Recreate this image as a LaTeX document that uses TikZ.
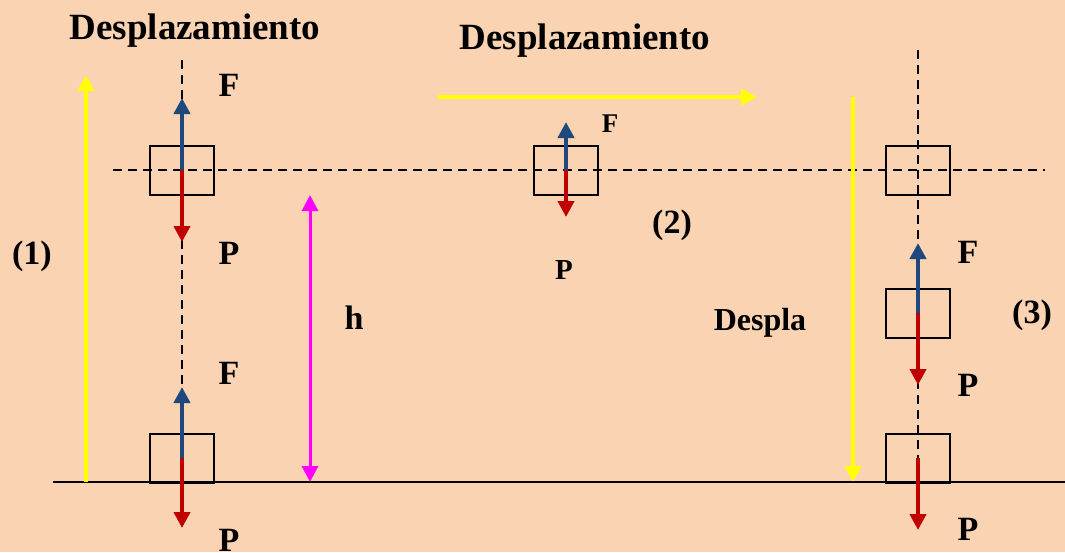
\documentclass[tikz,border=0pt]{standalone}
\usepackage{fontspec}
\setmainfont{Liberation Serif}
\usetikzlibrary{arrows.meta}
\definecolor{BgPeach}{HTML}{FAD3B3}
\definecolor{FBlue}{HTML}{1F497D}
\definecolor{PRed}{HTML}{C00000}
\definecolor{DYellow}{HTML}{FFFF00}
\definecolor{HMagenta}{HTML}{FF00FF}

\begin{document}
\begin{tikzpicture}[x=1pt,y=-1pt,>={Triangle[width=16pt,length=16pt]}]
  \tikzstyle{blk}=[draw,line width=2pt,minimum width=64pt,minimum height=49pt,inner sep=0pt]
  \tikzstyle{lbl}=[font=\fontsize{34}{36}\selectfont\bfseries,inner sep=0pt]
  \tikzstyle{guide}=[line width=2pt,dash pattern=on 9pt off 6pt]
  \tikzstyle{fup}=[->,line width=4pt,color=FBlue]
  \tikzstyle{pdown}=[->,line width=4pt,color=PRed]
  \tikzstyle{mov}=[->,line width=4pt,color=DYellow]
  \useasboundingbox[fill=BgPeach] (0,0) rectangle (1065,552);
  % guides
  \draw[line width=2pt] (53,482) -- (1065,482);
  \draw[guide] (113,170) -- (1045,170);
  \draw[guide] (182,60) -- (182,387);
  \draw[guide] (918,50) -- (918,458);
  % blocks
  \node[blk] (b1) at (182,170) {};
  \node[blk] (b2) at (182,458) {};
  \node[blk] (m1) at (566,170) {};
  \node[blk] (r1) at (918,170) {};
  \node[blk] (r2) at (918,313) {};
  \node[blk] (r3) at (918,458) {};
  % arrow ends
  \coordinate (b1f) at (182,98);
  \coordinate (b1p) at (182,242);
  \coordinate (b2f) at (182,387);
  \coordinate (b2p) at (182,528);
  \coordinate (m1f) at (566,122);
  \coordinate (m1p) at (566,217);
  \coordinate (r2f) at (918,243);
  \coordinate (r2p) at (918,385);
  \coordinate (r3p) at (918,530);
  \draw[fup] (b1.center) -- (b1f);
  \draw[pdown] (b1.center) -- (b1p);
  \draw[fup] (b2.center) -- (b2f);
  \draw[pdown] (b2.center) -- (b2p);
  \draw[fup] (m1.center) -- (m1f);
  \draw[pdown] (m1.center) -- (m1p);
  \draw[fup] (r2.center) -- (r2f);
  \draw[pdown] (r2.center) -- (r2p);
  \draw[pdown] (r3.center) -- (r3p);
  % displacements
  \coordinate (y1a) at (86,482);
  \coordinate (y1b) at (86,75);
  \coordinate (y2a) at (438,97);
  \coordinate (y2b) at (757,97);
  \coordinate (y3a) at (853,97);
  \coordinate (y3b) at (853,482);
  \draw[mov] (y1a) -- (y1b);
  \draw[mov] (y2a) -- (y2b);
  \draw[mov] (y3a) -- (y3b);
  \coordinate (ha) at (310,195);
  \coordinate (hb) at (310,482);
  \draw[<->,line width=3pt,color=HMagenta] (ha) -- (hb);
  % labels
  \node[lbl,font=\fontsize{37}{40}\selectfont\bfseries] (d1) at (195,31) {Desplazamiento};
  \node[lbl,font=\fontsize{37}{40}\selectfont\bfseries] (d2) at (585,41) {Desplazamiento};
  \node[lbl,font=\fontsize{32}{34}\selectfont\bfseries] (d3) at (760,323) {Despla};
  \node[lbl] (t1) at (229,85) {F};
  \node[lbl] (t2) at (229,253) {P};
  \node[lbl] (t3) at (229,373) {F};
  \node[lbl] (t4) at (229,540) {P};
  \node[lbl] (n1) at (32,256) {(1)};
  \node[lbl] (th) at (354,318) {h};
  \node[lbl,font=\fontsize{27}{30}\selectfont\bfseries] (t5) at (610,124) {F};
  \node[lbl,font=\fontsize{29}{30}\selectfont\bfseries] (t6) at (564,270) {P};
  \node[lbl] (n2) at (672,225) {(2)};
  \node[lbl] (t7) at (968,252) {F};
  \node[lbl] (t8) at (968,385) {P};
  \node[lbl] (t9) at (968,529) {P};
  \node[lbl] (n3) at (1032,315) {(3)};
\end{tikzpicture}
\end{document}
